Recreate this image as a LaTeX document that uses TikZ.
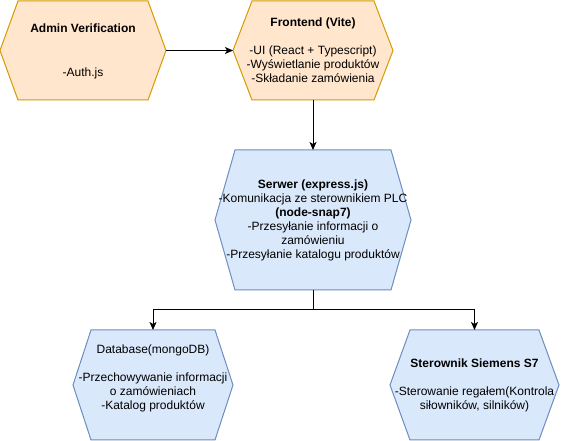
\documentclass[tikz,border=0pt]{standalone}
\usepackage{fontspec}
\setmainfont{Liberation Sans}
\usetikzlibrary{arrows.meta}
\definecolor{orfill}{HTML}{FFE6CC}
\definecolor{orline}{HTML}{D79B00}
\definecolor{blfill}{HTML}{DAE8FC}
\definecolor{blline}{HTML}{6C8EBF}
\tikzset{
  geo/.style={inner sep=0pt, outer sep=0pt, draw=none},
  txt/.style={align=center, inner sep=0pt, text=black},
  orhex/.style={draw=orline, fill=orfill, line width=0.75pt, line join=miter},
  blhex/.style={draw=blline, fill=blfill, line width=0.75pt, line join=miter},
  conn/.style={draw=black, line width=0.75pt},
  arr/.style={conn, -{Stealth[length=6pt,width=5.25pt,inset=1.5pt]}}
}
\newcommand\hexdraw[3]{%
  \draw[#3] (#1.west) -- ([xshift=#2*0.75pt]#1.north west) -- ([xshift=-#2*0.75pt]#1.north east) -- (#1.east) -- ([xshift=-#2*0.75pt]#1.south east) -- ([xshift=#2*0.75pt]#1.south west) -- cycle;}
\begin{document}
\begin{tikzpicture}[x=0.75pt,y=-0.75pt,font=\fontsize{9}{10.5}\selectfont]
\useasboundingbox (0,0) rectangle (561,441);
% geometry
\node[geo, minimum width=124.5pt, minimum height=74.25pt] (admin) at (83,50.5) {};
\node[geo, minimum width=120pt, minimum height=74.25pt] (front) at (313,50.5) {};
\node[geo, minimum width=147pt, minimum height=105pt] (server) at (313,220) {};
\node[geo, minimum width=120pt, minimum height=82.5pt] (db) at (153,385) {};
\node[geo, minimum width=126.75pt, minimum height=82.5pt] (st) at (474.5,385) {};
% shapes
\hexdraw{admin}{18}{orhex}
\hexdraw{front}{19}{orhex}
\hexdraw{server}{20}{blhex}
\hexdraw{db}{18}{blhex}
\hexdraw{st}{20}{blhex}
% texts
\node[txt] (admint) at (83,51.5) {\textbf{Admin Verification}\\[23pt]-Auth.js};
\node[txt] (frontt) at (313,50.5) {\textbf{Frontend (Vite)}\\ ~\\ -UI (React + Typescript)\\ -Wyświetlanie produktów\\ -Składanie zamówienia};
\node[txt] (servert) at (313,220) {\textbf{Serwer (express.js)}\\ -Komunikacja ze sterownikiem PLC\\ \textbf{(node-snap7)}\\ -Przesyłanie informacji o\\ zamówieniu\\ -Przesyłanie katalogu produktów};
\node[txt] (dbt) at (153,378) {Database(mongoDB)\\ ~\\ -Przechowywanie informacji\\ o zamówieniach\\ -Katalog produktów};
\node[txt] (stt) at (474.5,385) {\textbf{Sterownik Siemens S7}\\ ~\\ -Sterowanie regałem(Kontrola\\ siłowników, silników)};
% connectors
\coordinate (j) at (313,310);
\draw[arr] (admin.east) -- (front.west);
\draw[arr] (front.south) -- (server.north);
\draw[conn] (server.south) -- (j);
\draw[arr] (j) -| (db.north);
\draw[arr] (j) -| (st.north);
\end{tikzpicture}
\end{document}
